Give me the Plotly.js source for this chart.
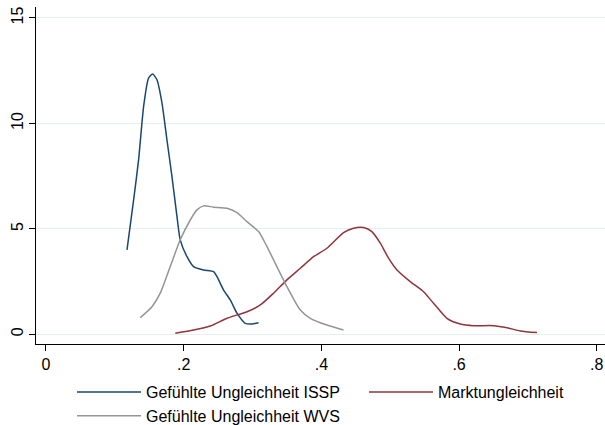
<!DOCTYPE html>
<html>
<head>
<meta charset="utf-8">
<script src="https://cdn.plot.ly/plotly-3.0.1.min.js"></script>
<style>html,body{margin:0;padding:0;background:#fff;}#chart{width:605px;height:425px;}</style>
</head>
<body>
<div id="chart"></div>
<script>
// Gefühlte Ungleichheit ISSP
const isspX = [0.1177,0.1273,0.1345,0.1418,0.149,0.1549,0.1612,0.1685,0.1757,0.183,0.1903,0.195,0.2048,0.2144,0.2289,0.2434,0.2484,0.258,0.2677,0.2774,0.2895,0.2992,0.3088];
const isspY = [4.0,6.37,8.27,10.80,12.15,12.34,12.07,10.96,9.22,7.48,5.58,4.48,3.68,3.21,3.05,2.97,2.73,2.10,1.63,1.0,0.52,0.49,0.55];
// Gefühlte Ungleichheit WVS
const wvsX = [0.137,0.154,0.166,0.1805,0.195,0.2096,0.2193,0.2289,0.2434,0.2629,0.2774,0.292,0.3088,0.321,0.3306,0.35,0.3694,0.3839,0.408,0.4322];
const wvsY = [0.79,1.31,1.95,3.21,4.48,5.42,5.90,6.09,6.03,5.98,5.77,5.34,4.87,4.16,3.53,2.26,1.15,0.76,0.44,0.20];
// Marktungleichheit
const marktX = [0.1878,0.2144,0.2386,0.2629,0.292,0.3113,0.3306,0.35,0.3694,0.3887,0.408,0.4322,0.4468,0.4613,0.4734,0.4856,0.4976,0.5098,0.5291,0.5484,0.563,0.5824,0.6017,0.6211,0.65,0.6696,0.6889,0.7132];
const marktY = [0.05,0.20,0.39,0.76,1.07,1.39,1.95,2.58,3.13,3.68,4.08,4.82,5.03,5.06,4.87,4.32,3.61,3.05,2.50,2.02,1.47,0.76,0.49,0.41,0.41,0.31,0.16,0.08];

const xTicks = [0,0.2,0.4,0.6,0.8];
const xTickText = ['0','.2','.4','.6','.8'];
const yTicks = [0,5,10,15];
const yTickText = ['0','5','10','15'];

const traces = [
  {x: isspX, y: isspY, name: 'Gefühlte Ungleichheit ISSP', legend: 'legend', mode: 'lines', line: {color: '#1a476f', width: 1.5, shape: 'spline', smoothing: 0.6}},
  {x: marktX, y: marktY, name: 'Marktungleichheit', legend: 'legend2', mode: 'lines', line: {color: '#90353b', width: 1.5, shape: 'spline', smoothing: 0.6}},
  {x: wvsX, y: wvsY, name: 'Gefühlte Ungleichheit WVS', legend: 'legend', mode: 'lines', line: {color: '#959595', width: 1.5, shape: 'spline', smoothing: 0.6}}
];

const legendCommon = {orientation: 'v', xref: 'paper', xanchor: 'left',
  yref: 'container', y: 0.1177, yanchor: 'top', itemwidth: 64,
  bgcolor: 'rgba(0,0,0,0)', font: {size: 16}, tracegroupgap: 0, traceorder: 'normal'};

const layout = {
  width: 605, height: 425,
  margin: {l: 36, r: 0, t: 7, b: 81},
  paper_bgcolor: '#ffffff', plot_bgcolor: '#ffffff',
  font: {family: 'Liberation Sans, Arial, sans-serif', size: 16, color: '#000'},
  showlegend: true,
  legend: Object.assign({}, legendCommon, {x: 0.0633}),
  legend2: Object.assign({}, legendCommon, {x: 0.5764}),
  xaxis: {range: [-0.0145, 0.812], tickvals: xTicks, ticktext: xTickText,
          showgrid: false, zeroline: false, showline: true, linecolor: '#000', linewidth: 1,
          ticks: 'outside', ticklen: 6, tickcolor: '#000', tickfont: {size: 16}},
  yaxis: {range: [-0.46, 15.52], tickvals: yTicks, ticktext: yTickText,
          showgrid: true, gridcolor: '#e6eff0', gridwidth: 1, zeroline: false,
          showline: true, linecolor: '#000', linewidth: 1,
          ticks: 'outside', ticklen: 6, tickcolor: '#000', tickangle: -90, tickfont: {size: 16}}
};

Plotly.newPlot('chart', traces, layout, {displayModeBar: false, staticPlot: true});
</script>
</body>
</html>
